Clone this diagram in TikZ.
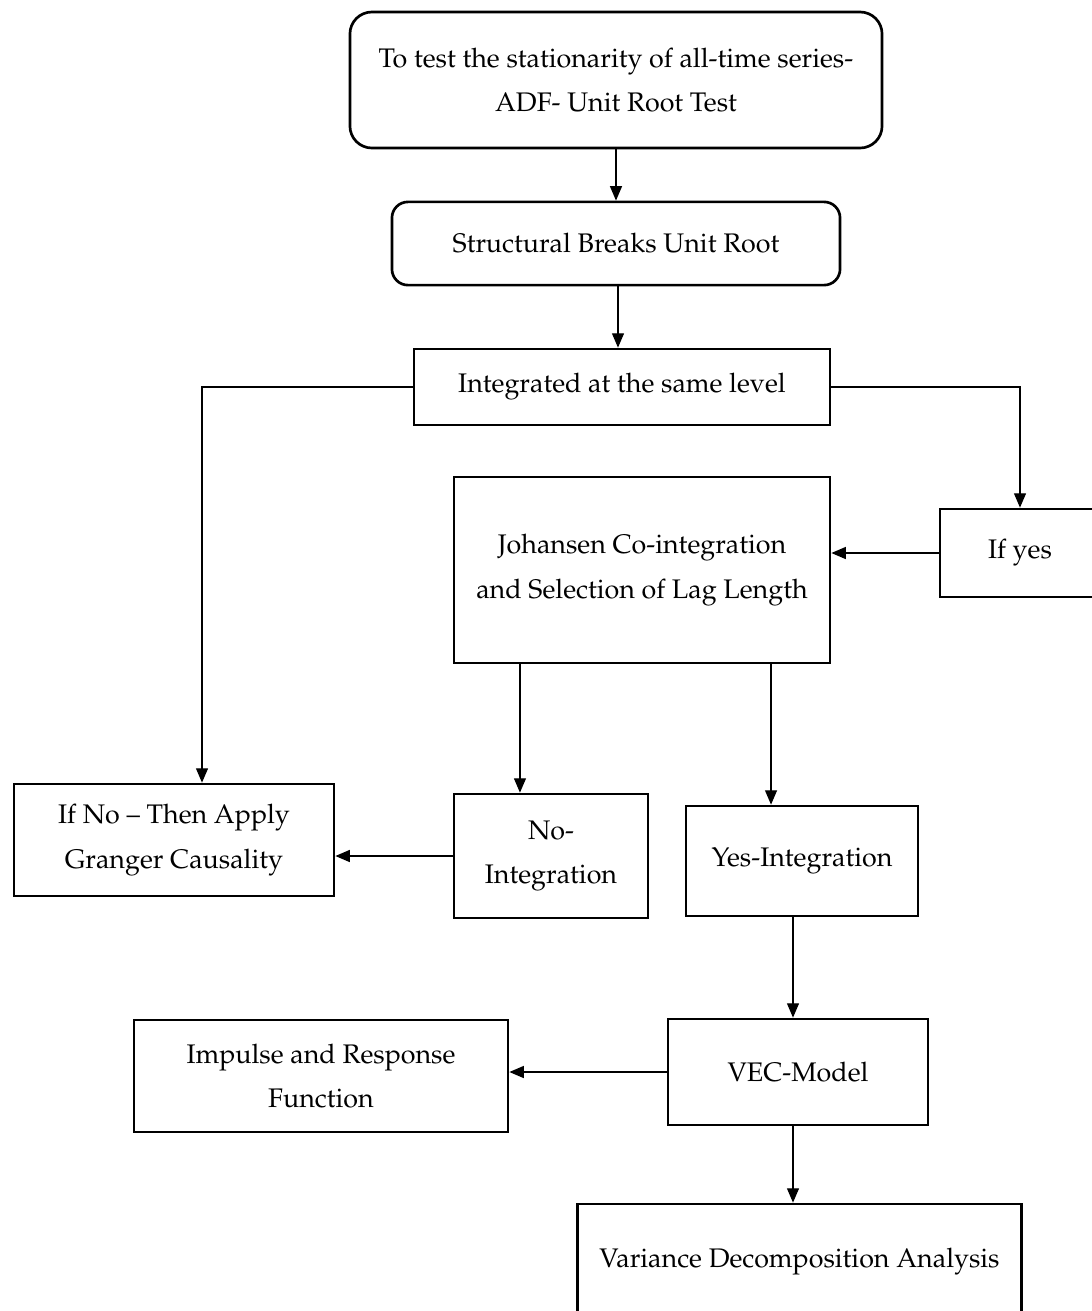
\documentclass[tikz,border=0pt]{standalone}
\usepackage[T1]{fontenc}
\usepackage{mathpazo}
\usetikzlibrary{arrows.meta,calc}

\begin{document}
\begin{tikzpicture}[x=0.025cm, y=-0.025cm,
    font=\fontsize{19.1}{31.5}\selectfont, >={Triangle[length=0.36cm,width=0.3cm]},
    box/.style={draw, line width=1.9pt, align=center, inner sep=0pt},
    rbox/.style={box, rounded corners=0.55cm},
    flow/.style={->, line width=0.9pt}]
  % page frame, in pixels of the reference (y grows downwards)
  \useasboundingbox (0,0) rectangle (1092,1311);
  % boxes: centre, then width and height
  \node[rbox, minimum width=13.3cm, minimum height=3.4cm] (adf) at (616,80)
    {To test the stationarity of all-time series-\\ADF- Unit Root Test};
  \node[rbox, rounded corners=0.4cm, minimum width=11.2cm, minimum height=2.08cm] (breaks) at (616,243.5)
    {Structural Breaks Unit Root};
  \node[box, minimum width=10.4cm, minimum height=1.9cm] (integ) at (622,387)
    {Integrated at the same level};
  \node[box, minimum width=4cm, minimum height=2.2cm] (ifyes) at (1020,553) {If yes};
  \node[box, minimum width=9.4cm, minimum height=4.65cm] (johansen) at (642,570)
    {Johansen Co-integration\\and Selection of Lag Length};
  \node[box, minimum width=8cm, minimum height=2.8cm] (ifno) at (174,840)
    {If No -- Then Apply\\Granger Causality};
  \node[box, minimum width=4.85cm, minimum height=3.1cm] (noint) at (551,856)
    {No-\\Integration};
  \node[box, minimum width=5.8cm, minimum height=2.75cm] (yesint) at (802,861)
    {Yes-Integration};
  \node[box, minimum width=6.5cm, minimum height=2.65cm] (vec) at (798,1072)
    {VEC-Model};
  \node[box, minimum width=9.35cm, minimum height=2.8cm] (impulse) at (321,1076)
    {Impulse and Response\\Function};
  \node[box, minimum width=11.1cm, minimum height=2.9cm] (variance) at (799.5,1262)
    {Variance Decomposition Analysis};

  % connectors
  \coordinate (bs) at ([xshift=0.05cm]breaks.south);
  \coordinate (jn) at ([xshift=-3.05cm]johansen.south);
  \coordinate (jy) at ([xshift=3.225cm]johansen.south);
  \coordinate (ys) at ([xshift=-0.225cm]yesint.south);
  \coordinate (vs) at ([xshift=-0.125cm]vec.south);
  \draw[flow] (adf) -- (breaks);
  \draw[flow] (bs) -- (bs |- integ.north);
  \draw[flow] (integ.west) -| ([xshift=0.7cm]ifno.north);
  \draw[flow] (integ.east) -| (ifyes.north);
  \draw[flow] (ifyes.west) -- (ifyes.west -| johansen.east);
  \draw[flow] (jn) -- (jn |- noint.north);
  \draw[flow] (jy) -- (jy |- yesint.north);
  \draw[flow] (noint.west) -- (noint.west -| ifno.east);
  \draw[flow] (ys) -- (ys |- vec.north);
  \draw[flow] (vec.west) -- (vec.west -| impulse.east);
  \draw[flow] (vs) -- (vs |- variance.north);
\end{tikzpicture}
\end{document}
